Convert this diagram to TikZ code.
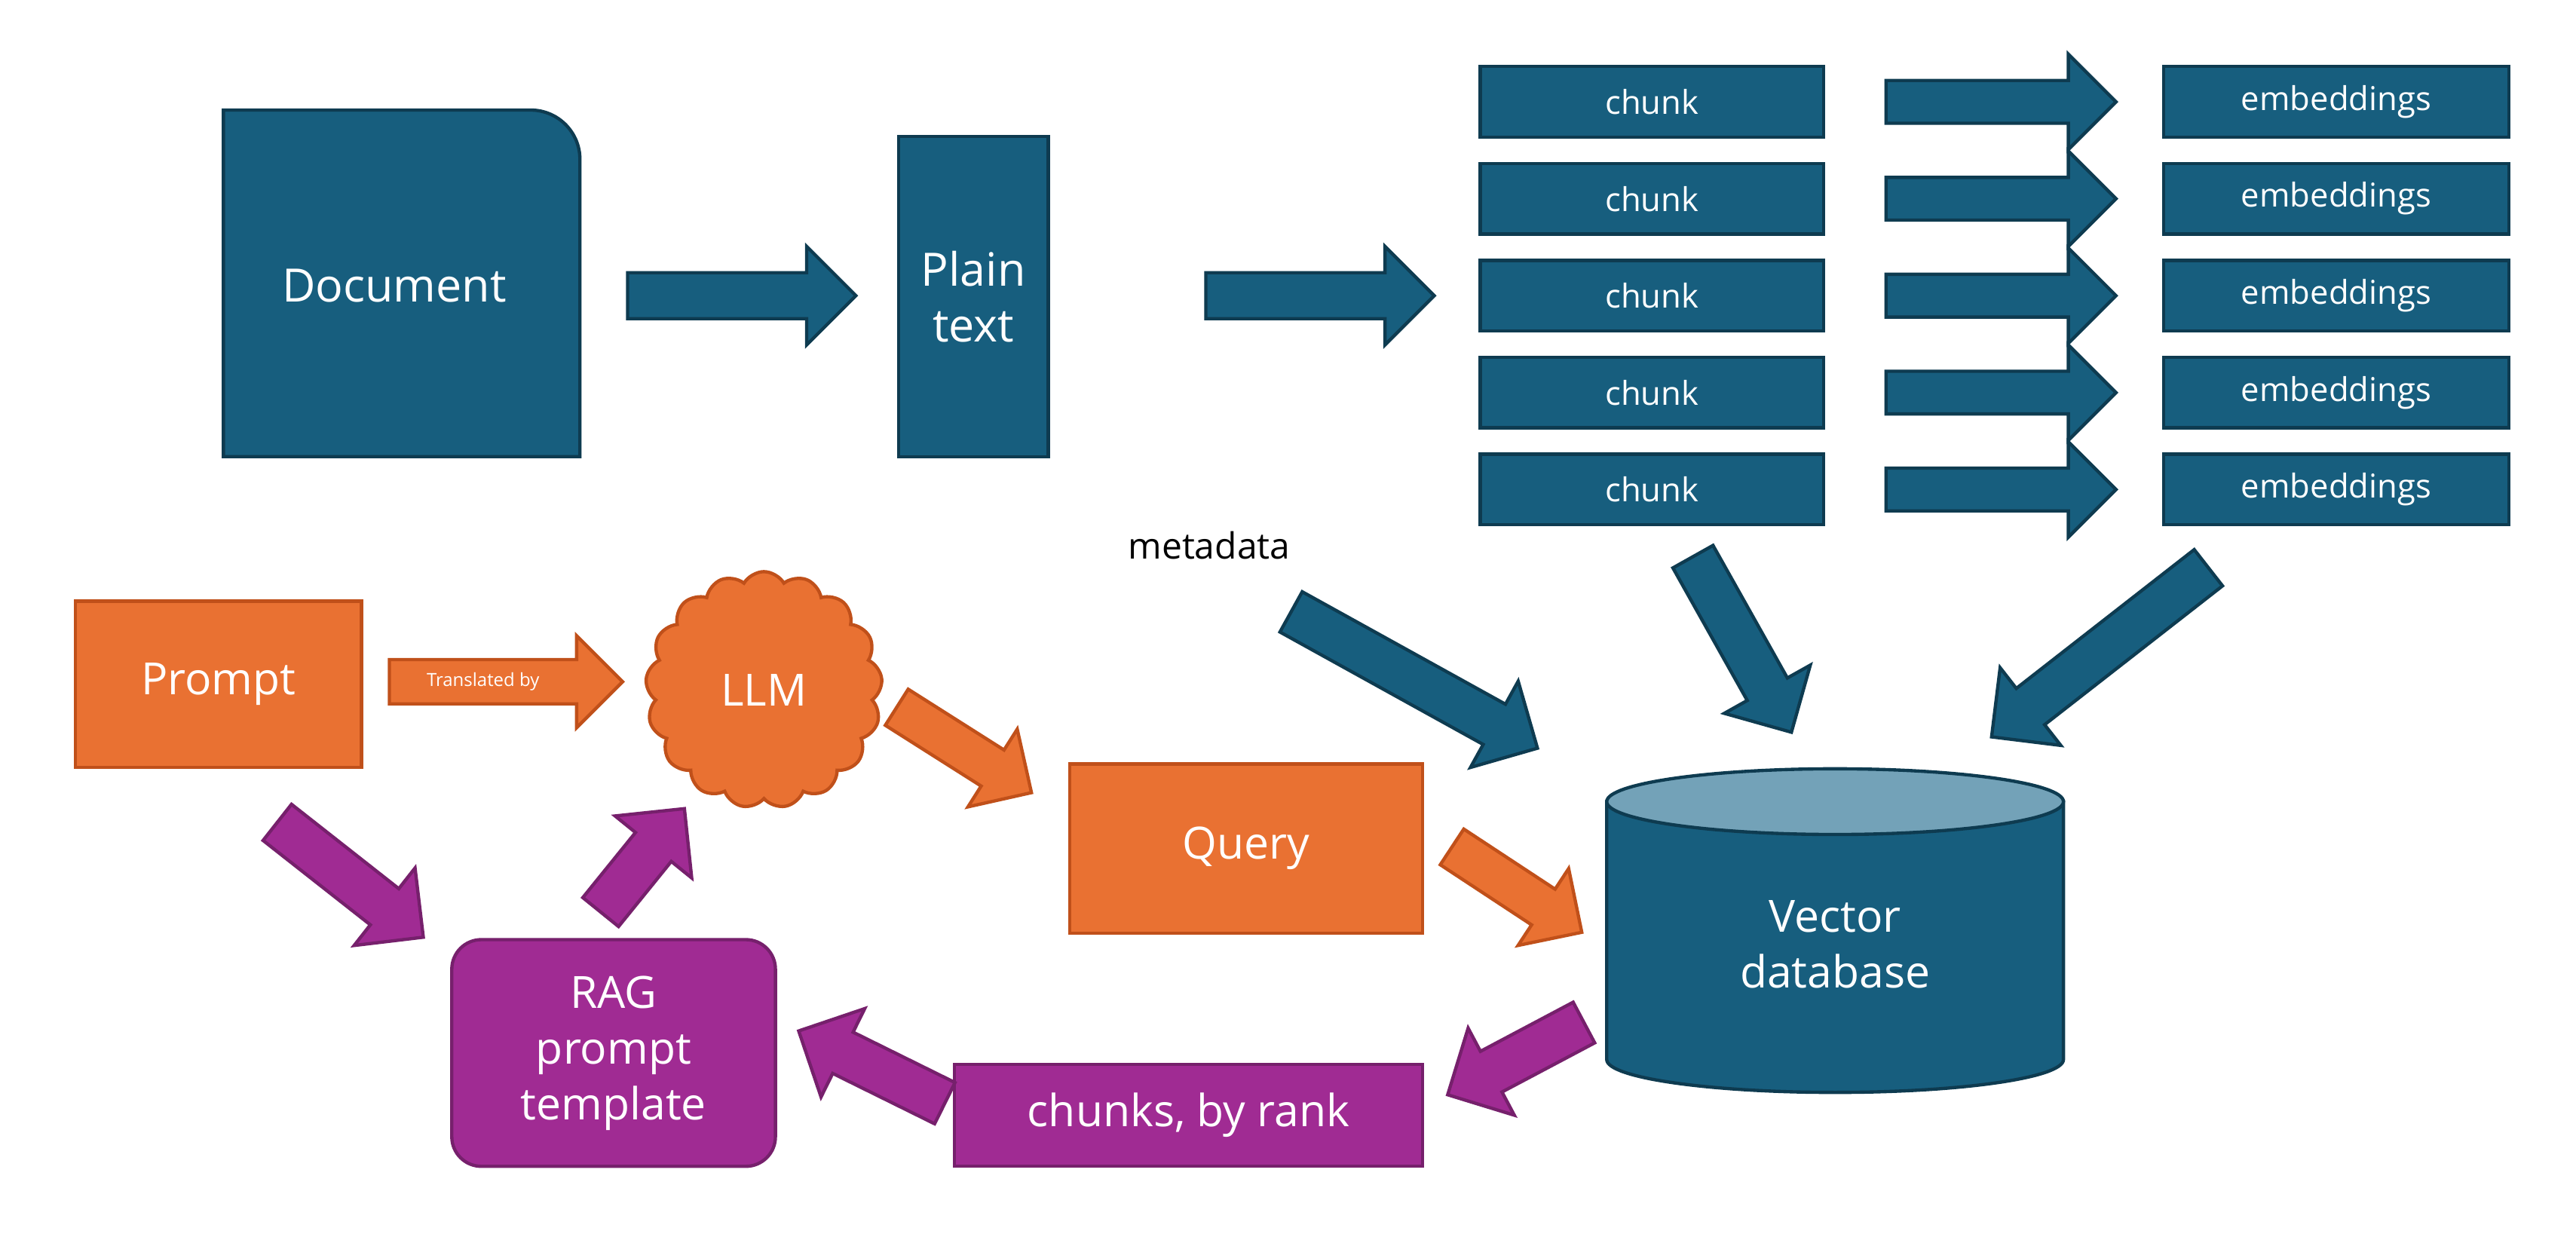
\documentclass[tikz,border=0pt]{standalone}
\usepackage{fontspec}
\setmainfont{Open Sans}
\usetikzlibrary{shapes.arrows,shapes.symbols,calc}
\definecolor{bl}{HTML}{175E7E}
\definecolor{bld}{HTML}{0E3B50}
\definecolor{bltop}{HTML}{73A2B8}
\definecolor{org}{HTML}{E97132}
\definecolor{orgd}{HTML}{C0501A}
\definecolor{pur}{HTML}{A02B93}
\definecolor{purd}{HTML}{76206C}
\tikzset{
 bbox/.style={draw=bld,fill=bl,line width=1pt,text=white},
 obox/.style={draw=orgd,fill=org,line width=1pt,text=white},
 pbox/.style={draw=purd,fill=pur,line width=1pt,text=white},
}
\newcommand{\barrow}[5]{% style, from, to, shaft(pt), head(pt)
 \path let \p1=(#2), \p2=(#3), \n1={atan2(\y2-\y1,\x2-\x1)}, \n2={veclen(\x2-\x1,\y2-\y1)} in
 node[#1,single arrow,inner sep=0pt,minimum width=#5,single arrow head extend={(#5-#4)/2},
 text height=#4, text depth=0pt, text width=0pt, minimum height=\n2,rotate=\n1,anchor=tail] at (#2) {};}
\begin{document}
\begin{tikzpicture}[x=0.5pt,y=-0.5pt]
\useasboundingbox (0,0) rectangle (1568,753);
% document
\path[bbox] (136,67) -- (323,67) arc[start angle=90,end angle=0,radius=15pt] -- (353,278) -- (136,278) -- cycle;
\node[text=white,font=\fontsize{14}{17}\selectfont] (doc) at (240,174) {Document};
\node[bbox,minimum width=45.5pt,minimum height=97.5pt,inner sep=0pt,align=center,font=\fontsize{14}{17}\selectfont] (plain) at (592.5,180.5) {Plain\\text};
\coordinate (a1s) at (381,180); \coordinate (a1e) at (520,180);
\barrow{bbox}{a1s}{a1e}{13pt}{29pt}
\coordinate (a2s) at (733,180); \coordinate (a2e) at (872,180);
\barrow{bbox}{a2s}{a2e}{13pt}{29pt}
\foreach \y [count=\i] in {62,121,180,239,298}{
 \node[bbox,minimum width=104.5pt,minimum height=21.5pt,inner sep=0pt,font=\fontsize{10}{12}\selectfont] (ch\i) at (1005.5,\y) {chunk};
 \node[bbox,minimum width=105pt,minimum height=21.5pt,inner sep=0pt,font=\fontsize{10}{12}\selectfont] (em\i) at (1422,\y) {embeddings};
 \coordinate (cs\i) at (1147,\y); \coordinate (ce\i) at (1287,\y);
 \barrow{bbox}{cs\i}{ce\i}{12pt}{28pt}
}
\node[font=\fontsize{11}{14}\selectfont] (meta) at (736,332) {metadata};
% database
\path[bbox] (978,488) -- (978,645) arc[start angle=180,end angle=360,x radius=69.5pt,y radius=10pt] -- (1256,488) -- cycle;
\path[draw=bld,fill=bltop,line width=1pt] (1117,488) ellipse[x radius=69.5pt,y radius=10pt];
\node[text=white,align=center,font=\fontsize{13.5}{17}\selectfont] (db) at (1117,575) {Vector\\database};
\coordinate (m1) at (785,372); \coordinate (m2) at (935,455);
\barrow{bbox}{m1}{m2}{13pt}{29pt}
\coordinate (c1) at (1030,338); \coordinate (c2) at (1090,445);
\barrow{bbox}{c1}{c2}{13pt}{29pt}
\coordinate (e1) at (1345,345); \coordinate (e2) at (1213,448);
\barrow{bbox}{e1}{e2}{13pt}{29pt}
% prompt side
\node[obox,minimum width=87pt,minimum height=50.5pt,inner sep=0pt,font=\fontsize{13.5}{17}\selectfont] (prompt) at (133,416.5) {Prompt};
\coordinate (t1) at (236,415); \coordinate (t2) at (378,415);
\barrow{obox}{t1}{t2}{12.5pt}{27pt}
\node[text=white,font=\fontsize{5.5}{7}\selectfont] (tb) at (294,415) {Translated by};
\node[obox,cloud,cloud puffs=17,cloud puff arc=120,minimum width=72pt,minimum height=72pt,font=\fontsize{13.5}{17}\selectfont] (llm) at (465,420) {LLM};
\node[obox,minimum width=107.5pt,minimum height=51.5pt,inner sep=0pt,font=\fontsize{13.5}{17}\selectfont] (query) at (758.5,516.5) {Query};
\coordinate (o1) at (545,430); \coordinate (o2) at (627,482);
\barrow{obox}{o1}{o2}{12pt}{27pt}
\coordinate (o3) at (883,515); \coordinate (o4) at (962,567);
\barrow{obox}{o3}{o4}{12pt}{27pt}
\node[pbox,rounded corners=9pt,minimum width=98.5pt,minimum height=69pt,inner sep=0pt,align=center,font=\fontsize{13.5}{17}\selectfont] (rag) at (373.5,641) {RAG\\prompt\\template};
\node[pbox,minimum width=142.5pt,minimum height=31pt,inner sep=0pt,font=\fontsize{13.5}{17}\selectfont] (rank) at (723.5,679) {chunks, by rank};
\coordinate (p1) at (168,500); \coordinate (p2) at (257,570);
\barrow{pbox}{p1}{p2}{13pt}{29pt}
\coordinate (p3) at (365,556); \coordinate (p4) at (416,493);
\barrow{pbox}{p3}{p4}{13pt}{29pt}
\coordinate (p5) at (965,622); \coordinate (p6) at (882,666);
\barrow{pbox}{p5}{p6}{13pt}{29pt}
\coordinate (p7) at (576,672); \coordinate (p8) at (487,628);
\barrow{pbox}{p7}{p8}{13pt}{29pt}
\end{tikzpicture}
\end{document}
